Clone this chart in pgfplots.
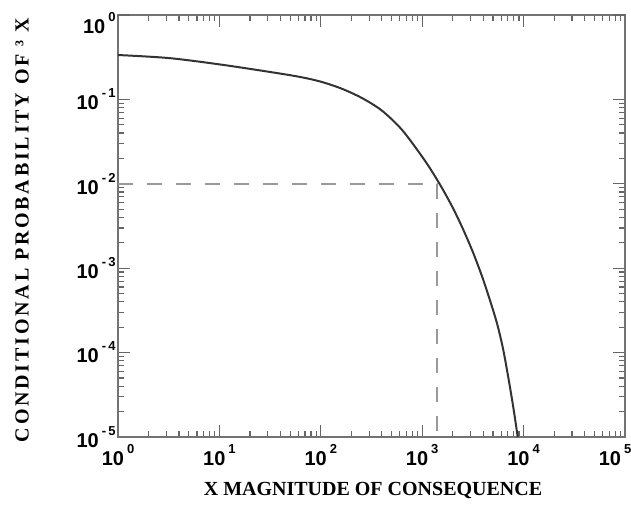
\documentclass[border=0pt]{standalone}
\usepackage{fontspec}
\setmainfont{Liberation Serif}
\newfontfamily\arial{Liberation Sans}
\usepackage{pgfplots}
\pgfplotsset{compat=1.18}
\usetikzlibrary{calc}

% tick label: 10 with a small raised exponent
\newcommand{\tl}[1]{10\hspace{1.5pt}\raisebox{6pt}{\fontsize{6.5}{7}\selectfont #1}}

\begin{document}
\begin{tikzpicture}
\begin{axis}[
    scale only axis,
    width=253.5pt,
    height=211pt,
    xmode=log,
    ymode=log,
    xmin=1, xmax=100000,
    ymin=1e-5, ymax=1,
    xtick={1,10,100,1000,10000,100000},
    xticklabels={\tl{0},\tl{1},\tl{2},\tl{3},\tl{4},\hspace*{-10pt}\tl{5}},
    ytick={1e-5,1e-4,1e-3,1e-2,1e-1},
    yticklabels={\tl{-\,5},\tl{-\,4},\tl{-\,3},\tl{-\,2},\tl{-\,1}},
    extra y ticks={1},
    extra y tick labels={\tl{0}},
    extra y tick style={yticklabel style={yshift=-4pt}},
    tick label style={font=\arial\bfseries\fontsize{10}{11}\selectfont},
    yticklabel style={inner sep=0pt, xshift=-1pt},
    tick align=inside,
    major tick length=6pt,
    minor tick length=3pt,
    axis line style={black!55, line width=1.3pt},
    every tick/.style={black!60, line width=0.6pt},
    xlabel={X MAGNITUDE OF CONSEQUENCE},
    ylabel={CONDITIONAL PROBABILITY OF ³ X},
    every axis x label/.style={at={(axis description cs:0.503,0)}, anchor=center, yshift=-26.5pt,
        font=\bfseries\fontsize{10}{12}\selectfont},
    every axis y label/.style={at={(axis description cs:0,0.49)}, rotate=90, anchor=center, yshift=48pt,
        font=\bfseries\fontsize{10}{12}\selectfont\addfontfeature{LetterSpace=14}},
]
\addplot[black!80, line width=1pt, smooth] coordinates {
    (1,0.3357) (3.162,0.309) (10,0.260) (31.62,0.2113) (63.1,0.1841)
    (100,0.1622) (158.5,0.1349) (251.2,0.1047) (398.1,0.0741) (631,0.0437)
    (1000,0.0209) (1259,0.0138) (1585,0.00871) (1995,0.00525) (2512,0.00295)
    (3162,0.00155) (3981,0.000741) (5012,0.000316) (5623,0.000195)
    (6310,0.000107) (7079,5.01e-5) (7943,2.19e-5) (8750,1e-5)
};
\addplot[black!40, line width=1.2pt, dash pattern=on 7.5pt off 7pt] coordinates {
    (1,0.01) (1400,0.01) (1400,1e-5)
};
\end{axis}
\pgfresetboundingbox
\path ($(current axis.south west)+(-59pt,-35.5pt)$) rectangle ($(current axis.north east)+(3pt,7.5pt)$);
\end{tikzpicture}
\end{document}
